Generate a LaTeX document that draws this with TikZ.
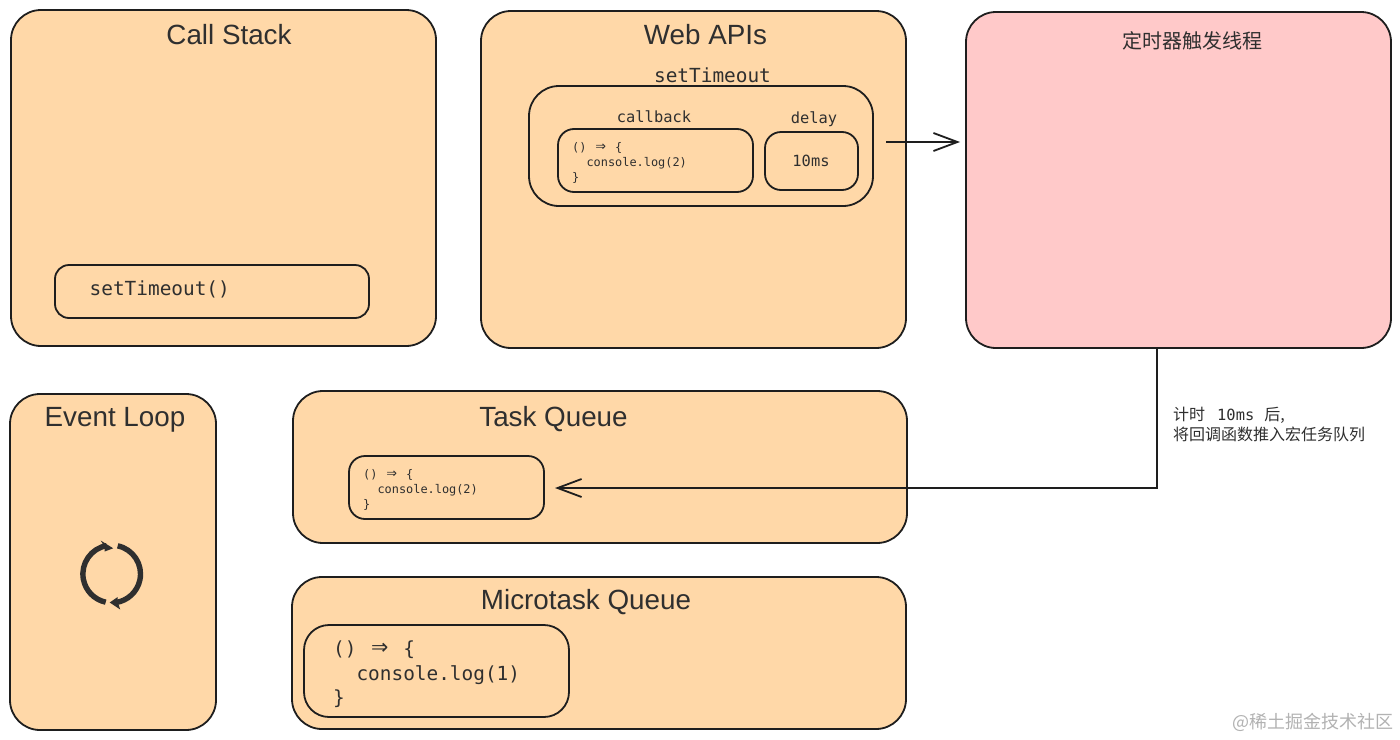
\documentclass[tikz,border=0pt]{standalone}
\usepackage{fontspec}
\setmainfont{Liberation Sans}
\setmonofont{DejaVu Sans Mono}
\newfontfamily\cjk{Noto Sans CJK SC}
\usetikzlibrary{arrows.meta}
\definecolor{orangefill}{HTML}{FFD8A8}
\definecolor{pinkfill}{HTML}{FFC9C9}
\definecolor{inkline}{HTML}{1E1E1E}
\definecolor{inktext}{HTML}{2F2F2F}
\newcommand{\fsz}[2]{\fontsize{#1}{#2}\selectfont}
\newcommand{\fatarrow}{\makebox[1.204em][c]{\scalebox{1.45}{⇒}}}
\tikzset{
  box/.style={draw=inkline,line width=1.8pt,fill=orangefill,inner sep=0pt,rounded corners=#1},
  box/.default=30pt,
  pinkbox/.style={box,fill=pinkfill},
  inner/.style={draw=inkline,line width=1.8pt,inner sep=0pt,rounded corners=#1},
  inner/.default=16pt,
  title/.style={inner sep=0pt,text=inktext,font=\fsz{27.8}{32}},
  mono/.style={inner sep=0pt,text=inktext,font=\ttfamily\fsz{#1}{#1}},
  code/.style={inner sep=0pt,text=inktext,align=left,anchor=west},
  conn/.style={draw=inkline,line width=1.8pt,-{Straight Barb[length=24pt,width=18pt,line width=1.8pt]}},
}
\begin{document}
\begin{tikzpicture}[x=1pt,y=-1pt]
\useasboundingbox (0,0) rectangle (1400,739);
\fill[white] (0,0) rectangle (1400,739);
% outer panels
\node[box,minimum width=425pt,minimum height=336pt] (stack) at (223.5,178) {};
\node[box,minimum width=425pt,minimum height=337pt] (web) at (693.5,179.5) {};
\node[pinkbox,minimum width=425pt,minimum height=336pt] (timer) at (1178.5,180) {};
\node[box,minimum width=206pt,minimum height=336pt] (loop) at (113,562) {};
\node[box,minimum width=614pt,minimum height=152pt] (task) at (600,467) {};
\node[box,minimum width=614pt,minimum height=152pt] (micro) at (599,653) {};
% titles
\node[title] (tstack) at (229,34.5) {Call Stack};
\node[title] (tweb) at (705.5,34.5) {Web APIs};
\node[title] (tloop) at (115,419.5) {Event Loop};
\node[title] (ttask) at (553.5,419) {Task Queue};
\node[title] (tmicro) at (586,602) {Microtask Queue};
\node[inner sep=0pt,text=inktext,font=\cjk\fsz{20}{24}] (ttimer) at (1192,41) {定时器触发线程};
% inner boxes
\node[inner=14pt,minimum width=314pt,minimum height=53pt] (call) at (212,291.5) {};
\node[inner=30pt,minimum width=344pt,minimum height=120pt] (st) at (701,146) {};
\node[inner,minimum width=195pt,minimum height=63pt] (cb) at (655.5,160.5) {};
\node[inner,minimum width=93pt,minimum height=58pt] (dl) at (811.5,161) {};
\node[inner,minimum width=195pt,minimum height=63pt] (tq) at (446.5,487.5) {};
\node[inner=25pt,minimum width=265pt,minimum height=92pt] (mq) at (436.5,671) {};
% texts
\node[mono=19.4,anchor=west] (tcall) at (89.5,289) {setTimeout()};
\node[mono=19.4] (tst) at (712.5,75) {setTimeout};
\node[mono=15.4] (tcb) at (654,117) {callback};
\node[mono=15.4] (tdl) at (814,119.5) {delay};
\node[mono=15.4] (tms) at (811,161) {10ms};
\node[code,font=\ttfamily\fsz{11.9}{15}] (ccb) at (572,163) {() \fatarrow{} \{\\\ \ console.log(2)\\\}};
\node[code,font=\ttfamily\fsz{11.9}{15}] (ctq) at (363,490) {() \fatarrow{} \{\\\ \ console.log(2)\\\}};
\node[code,font=\ttfamily\fsz{19.4}{24.7}] (cmq) at (333,674.5) {() \fatarrow{} \{\\\ \ console.log(1)\\\}};
% connectors
\coordinate (a0) at (886,142);
\coordinate (a1) at (960,142);
\coordinate (b0) at (1157,348);
\coordinate (b1) at (555,488);
\draw[conn] (a0) -- (a1);
\draw[conn] (b0) |- (b1);
\node[code,font=\fsz{16}{20}] (lbl) at (1173,424) {{\cjk 计时}\hspace{12pt}{\ttfamily\fsz{15.4}{20}10ms}\hspace{10pt}{\cjk 后,}\\{\cjk 将回调函数推入宏任务队列}};
% loop icon
\begin{scope}[shift={(111.7,574)},x=1pt,y=1pt]
  \draw[line width=5.4pt,color=inktext] (100:28.8) arc[start angle=100,end angle=258,radius=28.8];
  \draw[line width=5.4pt,color=inktext] (78:28.8) arc[start angle=78,end angle=-82,radius=28.8];
  \fill[inktext] (1.5,25.7) -- (-11,33.5) -- (-7,27) -- (-7,22.5) -- cycle;
  \fill[inktext] (-2,-28.5) -- (8.5,-35.5) -- (6,-28) -- (6,-23) -- cycle;
\end{scope}
% watermark
\node[inner sep=0pt,anchor=east,text=black!30,font=\cjk\fsz{18}{22}] (mark) at (1394,722.5) {@稀土掘金技术社区};
\end{tikzpicture}
\end{document}
